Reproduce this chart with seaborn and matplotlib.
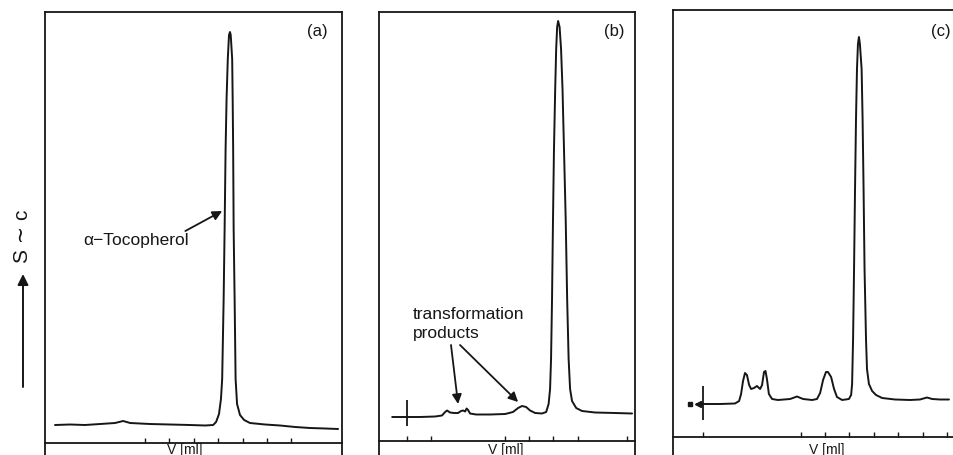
import numpy as np
import pandas as pd
import seaborn as sns
import matplotlib.pyplot as plt

# chromatogram traces, x = V [ml], y = detector signal (arbitrary units)
a_vol = [0.31, 0.93, 1.54, 2.16, 2.77, 3.10, 3.39, 4.20, 5.02, 5.84, 6.46, 6.79, 6.91, 7.03,
         7.11, 7.16, 7.22, 7.26, 7.30, 7.34, 7.39, 7.44, 7.48, 7.51, 7.57, 7.59, 7.61, 7.63,
         7.67, 7.71, 7.77, 7.89, 8.06, 8.30, 8.92, 9.53, 10.15, 10.76, 11.38, 11.91]
a_sig = [18, 18.5, 18, 19, 20, 22, 20, 19, 18.5, 18, 17.5, 18, 21, 29,
         44, 64, 144, 214, 294, 344, 384, 408, 411, 408, 384, 344, 294, 214,
         144, 64, 39, 28, 23, 20, 18.5, 17.5, 16, 15, 14.5, 14]

b_vol = [-0.61, 0.00, 0.53, 1.15, 1.43, 1.56, 1.64, 1.76, 1.93, 2.09, 2.21, 2.30, 2.38, 2.44,
         2.50, 2.58, 2.83, 3.40, 4.02, 4.34, 4.55, 4.71, 4.88, 5.04, 5.25, 5.53, 5.70, 5.80,
         5.86, 5.90, 5.94, 5.98, 6.02, 6.07, 6.11, 6.15, 6.19, 6.25, 6.31, 6.37, 6.43, 6.50,
         6.56, 6.62, 6.68, 6.76, 6.93, 7.17, 7.70, 8.52, 9.22]
b_sig = [24, 24, 24, 24.5, 25.5, 29, 30.5, 28.5, 28, 28, 30, 30.5, 29.5, 32.5,
         31, 27.5, 26.5, 26.5, 27, 29, 33, 35, 34, 30.5, 28, 27.5, 29, 37,
         52, 82, 142, 222, 292, 352, 392, 414, 420, 414, 392, 352, 292, 222,
         142, 82, 52, 40, 33, 30, 28.5, 28, 27.5]

c_vol = [-0.25, 0.70, 1.31, 1.48, 1.56, 1.64, 1.72, 1.80, 1.89, 1.97, 2.09, 2.21, 2.34, 2.42,
         2.50, 2.56, 2.62, 2.70, 2.83, 3.07, 3.57, 3.85, 4.10, 4.47, 4.67, 4.80, 4.92, 5.04,
         5.12, 5.25, 5.37, 5.49, 5.70, 5.98, 6.07, 6.11, 6.15, 6.19, 6.23, 6.27, 6.31, 6.35,
         6.39, 6.43, 6.50, 6.54, 6.58, 6.62, 6.68, 6.72, 6.80, 6.93, 7.09, 7.34, 7.87, 8.48,
         8.89, 9.18, 9.39, 9.71, 10.08]
c_sig = [33, 33, 33.5, 36, 43, 56, 64, 62, 52, 48, 49, 51, 48, 52,
         65, 66, 58, 43, 38, 37, 38, 40.5, 38, 37, 38, 44, 57, 65,
         65, 60, 48, 40, 37, 38, 42, 53, 98, 168, 248, 318, 368, 393,
         400, 393, 368, 318, 248, 168, 98, 68, 53, 46, 42, 39, 37.5, 37,
         37.5, 39.5, 38, 37.5, 37.5]

a_ticks = [4, 5, 6, 7, 8, 9, 10]
b_ticks = [0, 1, 4, 5, 6, 7, 9]
c_ticks = [0, 4, 5, 6, 7, 8, 9, 10]

# injection marks
b_inject = (0.0, 15, 41)
c_inject = (0.0, 17, 51)

sns.set_theme(style="white")
plt.rcParams['font.family'] = ['Liberation Sans', 'DejaVu Sans']

W, H = 954, 456
fig = plt.figure(figsize=(W / 100, H / 100), dpi=100)


def add_panel(left, right, top, bottom):
    return fig.add_axes([left / W, (H - bottom) / H, (right - left) / W, (bottom - top) / H])


ax_a = add_panel(45, 342, 13, 500)
ax_b = add_panel(379, 635, 13, 500)
ax_c = add_panel(673, 958, 11, 500)

panels = [
    (ax_a, a_vol, a_sig, a_ticks, (-0.10, 12.07), (-56, 431), "(a)", 0.916, 0.961, 185),
    (ax_b, b_vol, b_sig, b_ticks, (-1.15, 9.34), (-58, 429), "(b)", 0.918, 0.961, 506),
    (ax_c, c_vol, c_sig, c_ticks, (-1.23, 10.45), (-62, 427), "(c)", 0.940, 0.959, 827),
]

ink = "#161616"
for ax, vol, sig, ticks, xl, yl, lab, lx, ly, vx in panels:
    df = pd.DataFrame({"V": vol, "S": sig})
    sns.lineplot(data=df, x="V", y="S", ax=ax, color=ink, lw=1.4, sort=False, estimator=None)
    ax.set_xlim(*xl)
    ax.set_ylim(*yl)
    ax.set_xticks(ticks)
    ax.set_yticks([])
    ax.tick_params(axis="x", direction="in", length=3.5, width=1, color=ink,
                   labelbottom=False, bottom=True, pad=0)
    ax.spines["bottom"].set_position(("data", 0))
    for s in ax.spines.values():
        s.set_color(ink)
        s.set_linewidth(1.3)
    ax.set_ylabel("")
    ax.set_xlabel("")
    fig.text(vx / W, (H - 443.5) / H, "V [ml]", fontsize=10, ha="center", va="top", color=ink)
    ax.text(lx, ly, lab, transform=ax.transAxes, fontsize=12, ha="center",
            va="center", color=ink)

# injection markers
ax_b.vlines(b_inject[0], b_inject[1], b_inject[2], color=ink, lw=1.3)
ax_c.vlines(c_inject[0], c_inject[1], c_inject[2], color=ink, lw=1.3)
ax_c.plot([-0.53], [33], marker="s", ms=3.5, color=ink)
ax_c.plot([-0.20], [33], marker="<", ms=5, color=ink)

arrow = dict(arrowstyle="-|>", color=ink, lw=1.3, mutation_scale=14, shrinkA=0, shrinkB=0)

# annotation (a)
ax_a.text(3.65, 203, "\u03b1\u2212Tocopherol", fontsize=12.5, ha="center", va="center", color=ink)
ax_a.annotate("", xy=(7.16, 232), xytext=(5.65, 212), arrowprops=arrow)

# annotation (b)
ax_b.text(0.25, 118, "transformation\nproducts", fontsize=12.5, ha="left", va="center",
          color=ink, linespacing=1.3)
ax_b.annotate("", xy=(2.09, 37), xytext=(1.80, 96), arrowprops=arrow)
ax_b.annotate("", xy=(4.55, 39), xytext=(2.17, 96), arrowprops=arrow)

# y axis quantity arrow
ax_a.annotate("", xy=(23, H - 275), xytext=(23, H - 388), xycoords="figure pixels",
              textcoords="figure pixels", arrowprops=dict(arrowstyle="-|>", color=ink, lw=1.4,
                                                          mutation_scale=16, shrinkA=0, shrinkB=0),
              annotation_clip=False)
fig.text(23 / W, (H - 236) / H, "S \u223c c", rotation=90, fontsize=15, ha="center", va="center",
         color=ink)

fig.savefig("out.png", dpi=100)
